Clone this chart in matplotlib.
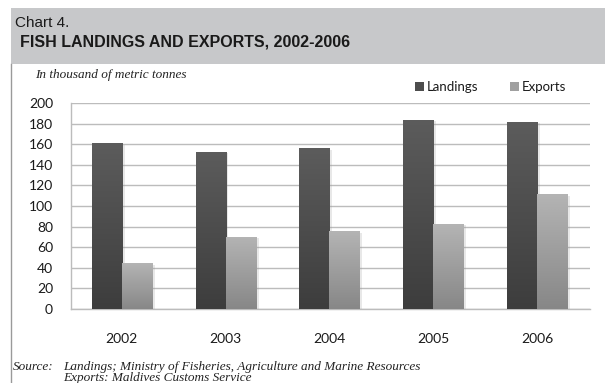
import numpy as np
import matplotlib
matplotlib.use("Agg")
import matplotlib.pyplot as plt
from matplotlib.patches import Rectangle, Patch
from matplotlib.lines import Line2D
from matplotlib import patheffects as pe
from matplotlib.colors import LinearSegmentedColormap

years = ["2002", "2003", "2004", "2005", "2006"]
landings = [161, 152.5, 156, 183.5, 181.5]
exports = [44.5, 70, 75.5, 82.5, 111.5]
y_ticks = [0, 20, 40, 60, 80, 100, 120, 140, 160, 180, 200]

W, H = 605, 383
fig = plt.figure(figsize=(W / 100, H / 100), dpi=100)
fig.patch.set_facecolor("white")

# Header band and left rule
fig.add_artist(Rectangle((11 / W, 1 - 64 / H), 1 - 11 / W, 56 / H,
                         transform=fig.transFigure, facecolor="#c7c8ca",
                         edgecolor="none", zorder=0))
fig.add_artist(Line2D([11 / W, 11 / W], [0, 1 - 64 / H],
                      transform=fig.transFigure, color="#9a9a9a", lw=1.0))

fig.text(15 / W, 1 - 23 / H, "Chart 4.", fontsize=11, family="Liberation Sans",
         color="#1a1a1a", va="center", ha="left")
fig.text(20 / W, 1 - 42 / H, "FISH LANDINGS AND EXPORTS, 2002-2006", fontsize=11.5,
         family="Liberation Sans", weight="bold", color="#1a1a1a",
         va="center", ha="left")
fig.text(35 / W, 1 - 75 / H, "In thousand of metric tonnes", fontsize=9.5,
         family="Liberation Serif", style="italic", color="#222222",
         va="center", ha="left")

ax = fig.add_axes([71 / W, 74 / H, (590 - 71) / W, (309 - 103) / H])
ax.set_facecolor("white")

x = np.arange(len(years))
bw = 0.29
land_bars = ax.bar(x - bw / 2, landings, bw, color="#4d4d4d", zorder=3)
exp_bars = ax.bar(x + bw / 2, exports, bw, color="#a0a0a0", zorder=3)

shadow = [pe.SimplePatchShadow(offset=(2, -1), shadow_rgbFace="#999999", alpha=0.22),
          pe.Normal()]

def shade(bars, top, bottom):
    cmap = LinearSegmentedColormap.from_list("g", [bottom, top])
    grad = np.linspace(0, 1, 256).reshape(-1, 1)
    for b in bars:
        b.set_path_effects(shadow)
        x0, y0 = b.get_x(), b.get_y()
        im = ax.imshow(grad, cmap=cmap, origin="lower", aspect="auto",
                       extent=(x0, x0 + b.get_width(), y0, y0 + b.get_height()),
                       zorder=3.5, interpolation="bilinear")
        im.set_clip_path(b)

shade(land_bars, "#5c5c5c", "#3d3d3d")
shade(exp_bars, "#b4b4b4", "#878787")

ax.set_xlim(-0.49, 4.51)
ax.set_ylim(0, 200)
ax.set_yticks(y_ticks)
ax.set_xticks(x)
ax.set_xticklabels(years)
ax.yaxis.grid(True, color="#bcbcbc", lw=1.0, zorder=0)
ax.set_axisbelow(True)
for s in ["top", "right"]:
    ax.spines[s].set_visible(False)
for s in ["left", "bottom"]:
    ax.spines[s].set_color("#bcbcbc")
    ax.spines[s].set_linewidth(1.0)
ax.tick_params(axis="both", length=0, labelsize=10, labelcolor="#1a1a1a")
ax.tick_params(axis="x", pad=17)
ax.tick_params(axis="y", pad=13)
for lab in ax.get_xticklabels() + ax.get_yticklabels():
    lab.set_family("Lato")

handles = [Patch(facecolor="#4d4d4d"), Patch(facecolor="#a0a0a0")]
fig.legend(handles, ["Landings", "Exports"], loc="center left",
           bbox_to_anchor=(403 / W, 1 - 87 / H), ncol=2, frameon=False,
           handlelength=0.7, handleheight=0.7, handletextpad=0.2,
           columnspacing=2.4, prop={"family": "Lato", "size": 9.5},
           labelcolor="#1a1a1a")

fig.text(13 / W, 1 - 367 / H, "Source:", fontsize=9.5, family="Liberation Serif",
         style="italic", color="#222222", va="center", ha="left")
fig.text(63 / W, 1 - 367 / H,
         "Landings; Ministry of Fisheries, Agriculture and Marine Resources",
         fontsize=9.5, family="Liberation Serif", style="italic", color="#222222",
         va="center", ha="left")
fig.text(63 / W, 1 - 378 / H, "Exports: Maldives Customs Service",
         fontsize=9.5, family="Liberation Serif", style="italic", color="#222222",
         va="center", ha="left")

fig.savefig("out.png", dpi=100)
